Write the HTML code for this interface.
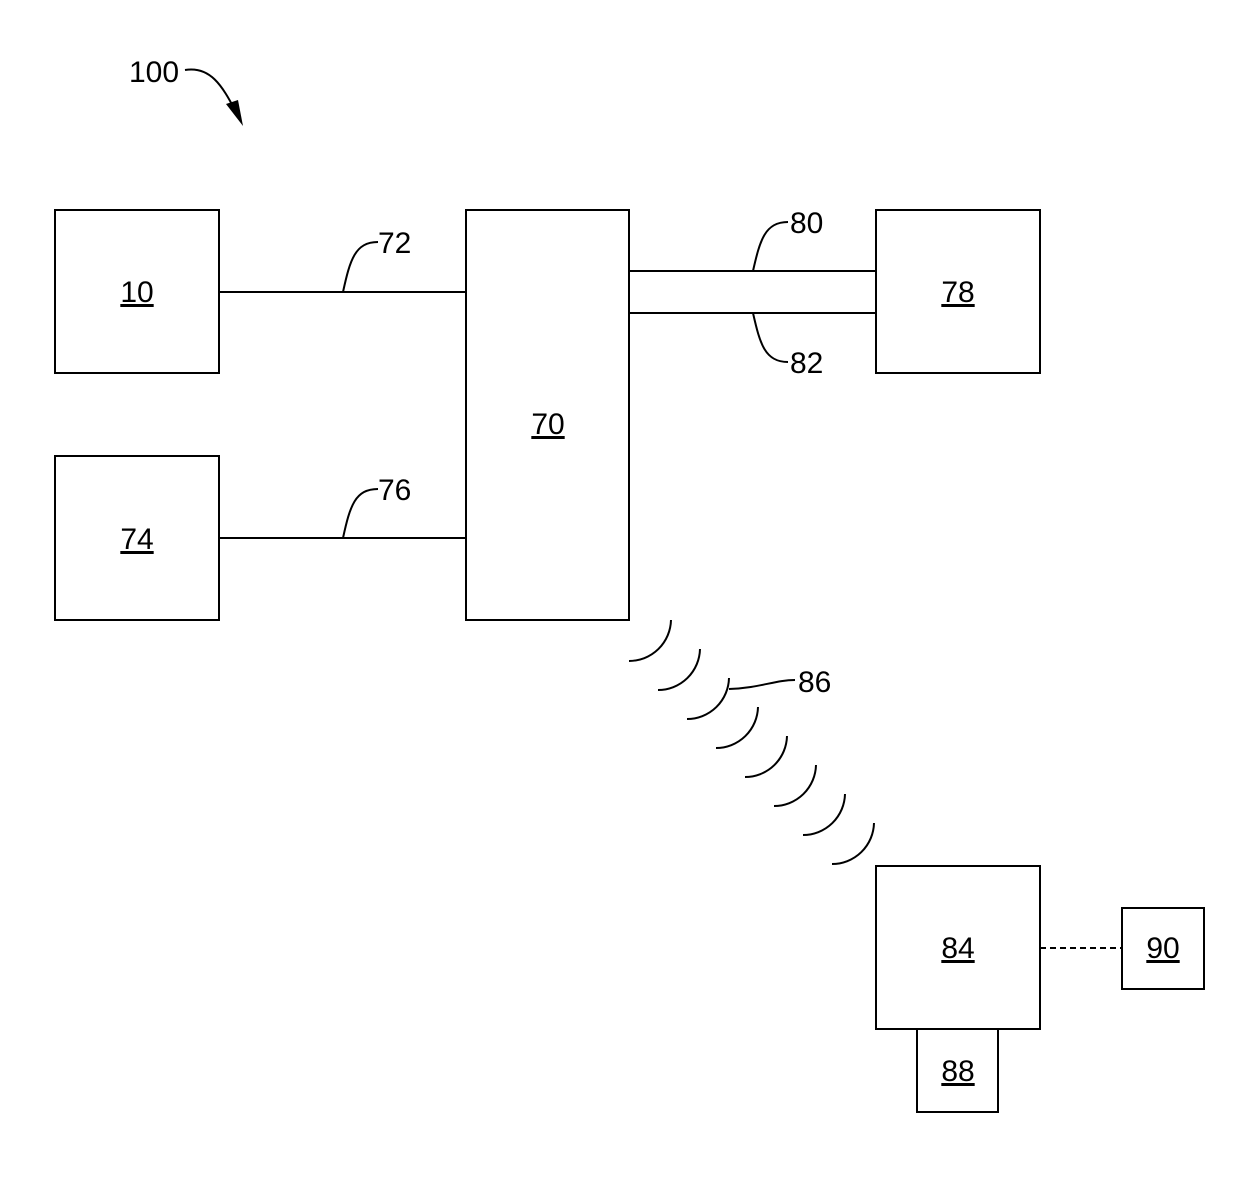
<!DOCTYPE html>
<html><head><style>body{margin:0;background:#fff}</style></head><body>
<svg width="1240" height="1178" xmlns="http://www.w3.org/2000/svg" font-family="Liberation Sans, sans-serif" font-size="30">
<g fill="none" stroke="#000" stroke-width="2">
<rect x="55" y="210" width="164" height="163"/>
<rect x="55" y="456" width="164" height="164"/>
<rect x="466" y="210" width="163" height="410"/>
<rect x="876" y="210" width="164" height="163"/>
<rect x="876" y="866" width="164" height="163"/>
<rect x="917" y="1029" width="81" height="83"/>
<rect x="1122" y="908" width="82" height="81"/>
<line x1="219" y1="292" x2="466" y2="292"/>
<line x1="219" y1="538" x2="466" y2="538"/>
<line x1="629" y1="271" x2="876" y2="271"/>
<line x1="629" y1="313" x2="876" y2="313"/>
<line x1="1040" y1="948" x2="1122" y2="948" stroke-dasharray="6,4"/>
<path d="M343,292 C350,260 355,242 378,242"/>
<path d="M343,538 C350,506 355,489 378,489"/>
<path d="M753,271 C760,240 765,222 788,222"/>
<path d="M753,313 C760,344 765,362 788,362"/>
<path d="M729,689 C760,688 775,680 795,680"/>
<path d="M185,70 C210,66 222,85 236,112"/>
<path d="M671,620 A42,42 0 0 1 629,661"/>
<path d="M700,649 A42,42 0 0 1 658,690"/>
<path d="M729,678 A42,42 0 0 1 687,719"/>
<path d="M758,707 A42,42 0 0 1 716,748"/>
<path d="M787,736 A42,42 0 0 1 745,777"/>
<path d="M816,765 A42,42 0 0 1 774,806"/>
<path d="M845,794 A42,42 0 0 1 803,835"/>
<path d="M874,823 A42,42 0 0 1 832,864"/>
</g>
<polygon points="243,126 226,104 238,100" fill="#000"/>
<g text-anchor="middle" text-decoration="underline">
<text x="137" y="302">10</text>
<text x="137" y="549">74</text>
<text x="548" y="434">70</text>
<text x="958" y="302">78</text>
<text x="958" y="958">84</text>
<text x="958" y="1081">88</text>
<text x="1163" y="958">90</text>
</g>
<text x="378" y="253">72</text>
<text x="378" y="500">76</text>
<text x="790" y="233">80</text>
<text x="790" y="373">82</text>
<text x="798" y="692">86</text>
<text x="129" y="82">100</text>
</svg>
</body></html>
